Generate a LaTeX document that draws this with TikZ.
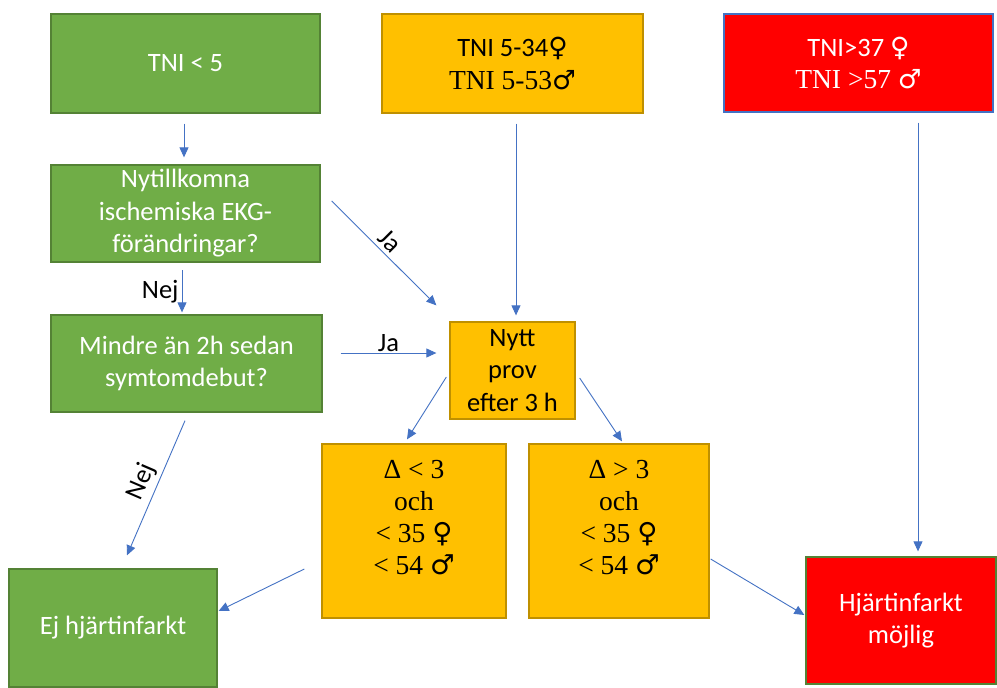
\documentclass[tikz,border=0pt]{standalone}
\usepackage{fontspec}
\setmainfont{Carlito}
\newfontfamily\tms{Liberation Serif}
\newfontfamily\sym{DejaVu Sans}
\usetikzlibrary{arrows.meta,calc}
\definecolor{gfill}{HTML}{70AD47}
\definecolor{gline}{HTML}{548235}
\definecolor{ofill}{HTML}{FFC000}
\definecolor{oline}{HTML}{BF9000}
\definecolor{rfill}{HTML}{FF0000}
\definecolor{bline}{HTML}{4472C4}
\begin{document}
\begin{tikzpicture}[x=1pt,y=-1pt,
  font=\fontsize{26.5}{32.5}\selectfont,
  boxbase/.style={draw, line width=1.3pt, inner sep=0pt, align=center, anchor=center},
  gbox/.style={boxbase, fill=gfill, draw=gline, text=white},
  obox/.style={boxbase, fill=ofill, draw=oline, text=black},
  rbox/.style={boxbase, fill=rfill, text=white},
  seriftext/.style={inner sep=0pt, align=center, font=\tms\fontsize{27.5}{32}\selectfont},
  arr/.style={draw=bline, line width=0.9pt, -{Triangle[length=10pt,width=9pt]}},
  lab/.style={font=\fontsize{26.5}{32}\selectfont, text=black, inner sep=1pt}
]
\useasboundingbox (0,0) rectangle (997,688);
\fill[white] (0,0) rectangle (997,688);

% top row
\node[gbox, minimum width=269pt, minimum height=99pt] (t5) at (185.5,63.5) {TNI < 5};
\node[obox, minimum width=261pt, minimum height=99pt] (o1) at (512.5,63.5)
  {TNI 5-34{\sym ♀}\\{\tms\fontsize{27.5}{32.5}\selectfont TNI 5-53}{\sym ♂}};
\node[rbox, draw=bline, minimum width=269pt, minimum height=98pt] (r1) at (858.5,63)
  {TNI>37 {\sym ♀}\\{\tms\fontsize{27.5}{32.5}\selectfont TNI >57 }{\sym ♂}};

% left column
\node[gbox, minimum width=269pt, minimum height=97pt] (nyt) at (185.5,213.5)
  {Nytillkomna\\ischemiska EKG-\\förändringar?};
\node[gbox, minimum width=271pt, minimum height=97pt] (mi) at (186.5,363.5)
  {Mindre än 2h sedan\\symtomdebut?};

% middle
\node[obox, minimum width=125pt, minimum height=97pt] (np) at (512.5,370.5)
  {Nytt\\prov\\efter 3 h};
\node[obox, minimum width=184pt, minimum height=174pt] (d1) at (414,531) {};
\node[seriftext] (d1t) at ([yshift=13pt]d1.center)
  {Δ < 3\\och\\< 35 {\sym ♀}\\< 54 {\sym ♂}};
\node[obox, minimum width=180pt, minimum height=174pt] (d2) at (619,531) {};
\node[seriftext] (d2t) at ([yshift=13pt]d2.center)
  {Δ > 3\\och\\< 35 {\sym ♀}\\< 54 {\sym ♂}};

% outcomes
\node[gbox, minimum width=208pt, minimum height=118pt] (ej) at (113,628) {Ej hjärtinfarkt};
\node[rbox, draw=gline, minimum width=190pt, minimum height=127pt] (hm) at (901,620.5)
  {Hjärtinfarkt\\möjlig};

% connectors
\draw[arr] ([xshift=-1.5pt,yshift=-10pt]t5.south) -- ([xshift=-1.5pt,yshift=7pt]nyt.north);
\draw[arr] ([xshift=3.5pt,yshift=-10pt]o1.south) -- ([xshift=3.5pt,yshift=6pt]np.north);
\draw[arr] ([xshift=59.5pt,yshift=-10pt]r1.south) -- ([xshift=17pt,yshift=5pt]hm.north);
\draw[arr] ([xshift=11pt,yshift=12.5pt]nyt.east) -- ([xshift=-13pt,yshift=16pt]np.north west)
  node[lab, pos=0.47, sloped, above=3pt] (lja1) {Ja};
\draw[arr] ([xshift=-3.5pt,yshift=-7.5pt]nyt.south) -- ([xshift=-4.5pt,yshift=2pt]mi.north)
  node[lab, pos=0.5, left=2pt] (lnej1) {Nej};
\draw[arr] ([xshift=18pt,yshift=10.5pt]mi.east) -- ([xshift=-13pt,yshift=17.5pt]np.west)
  node[lab, pos=0.5, above=0pt] (lja2) {Ja};
\draw[arr] ([xshift=-1.5pt,yshift=-8pt]mi.south) -- ([xshift=14pt,yshift=13pt]ej.north)
  node[lab, pos=0.5, sloped, above=3pt] (lnej2) {Nej};
\draw[arr] ([xshift=-3pt,yshift=-6.5pt]np.west) -- ([xshift=-7pt,yshift=4pt]d1.north);
\draw[arr] ([xshift=4pt,yshift=-7.5pt]np.east) -- ([xshift=3pt,yshift=2pt]d2.north);
\draw[arr] ([xshift=-17pt,yshift=-38pt]d1.west) -- ([xshift=1pt,yshift=17pt]ej.east);
\draw[arr] ([xshift=1pt,yshift=-28pt]d2.east) -- ([xshift=-1pt,yshift=5.5pt]hm.west);
\end{tikzpicture}
\end{document}
